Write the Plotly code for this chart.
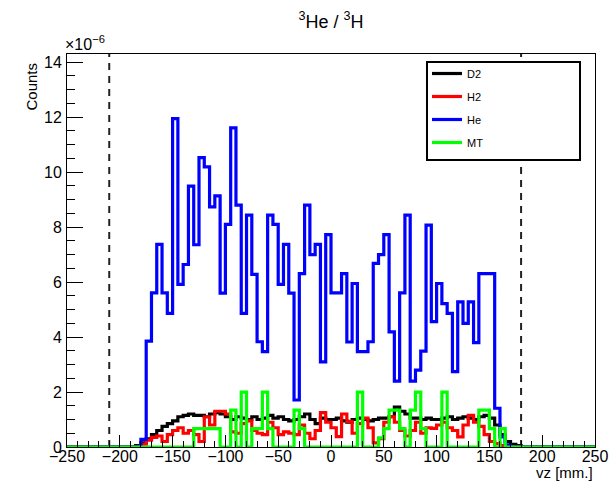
import numpy as np
import plotly.graph_objects as go

# ---- data (values in units of 1e-6 counts), 100 bins of 5 mm from -250 to 250 ----
X_MIN, X_MAX, N_BINS = -250, 250, 100
edges = np.linspace(X_MIN, X_MAX, N_BINS + 1)

d2_values = [0.0] * 13 + [
    0.05, 0.15, 0.3, 0.45, 0.6, 0.75, 0.85, 0.95, 1.1, 1.15,
    1.2, 1.15, 1.15, 1.1, 1.2, 1.25, 1.2, 1.1, 1.0, 1.1,
    1.05, 1.0, 1.1, 1.0, 1.05, 1.15, 1.05, 1.1, 1.0, 0.95,
    1.0, 1.1, 1.2, 1.0, 0.85, 1.05, 1.0, 1.0, 1.05, 0.95,
    0.9, 1.0, 1.05, 1.0, 0.95, 1.0, 1.05, 1.05, 1.1, 1.45,
    1.3, 1.2, 1.05, 1.05, 1.0, 1.05, 1.0, 1.0, 1.05, 1.1,
    1.0, 1.05, 1.1, 1.05, 1.0, 1.1, 1.15, 1.05, 0.8, 0.45,
    0.2, 0.1, 0.05] + [0.0] * 14

h2_values = [0.0] * 14 + [
    0.1, 0.25, 0.35, 0.4, 0.2, 0.45, 0.6, 0.7, 0.5, 0.6,
    0.45, 0.2, 1.1, 0.8, 1.3, 1.3, 1.2, 0.55, 0.5, 0.85,
    0.95, 0.6, 0.5, 0.45, 0.9, 0.7, 0.45, 0.55, 0.5, 0.45,
    0.8, 0.5, 0.3, 0.6, 1.25, 0.9, 0.7, 0.38, 1.2, 0.93,
    0.5, 0.85, 1.05, 0.7, 0.15, 0.3, 0.9, 1.1, 0.9, 0.6,
    0.4, 0.6, 0.9, 0.5, 0.7, 0.68, 0.8, 0.9, 0.7, 0.6,
    0.37, 0.8, 1.15, 0.9, 0.75, 0.45, 0.2, 0.12, 0.05] + [0.0] * 17

he_values = [0.0] * 14 + [
    0.28, 3.85, 5.61, 7.37, 5.61, 4.86, 11.95, 5.92, 6.64, 9.49,
    7.36, 10.53, 10.19, 8.74, 9.14, 5.6, 8.1, 11.61, 8.8, 4.86,
    8.44, 6.28, 3.83, 3.47, 8.44, 8.1, 5.92, 7.37, 5.6, 1.71,
    6.31, 8.8, 7.0, 7.37, 3.1, 7.73, 5.61, 5.61, 6.31, 3.82,
    5.95, 3.47, 3.47, 3.83, 6.68, 7.0, 7.73, 4.19, 2.4, 5.61,
    8.44, 2.4, 2.8, 3.49, 8.07, 4.56, 5.95, 5.22, 4.86, 2.74,
    5.28, 4.5, 5.28, 3.8, 6.31, 6.31, 6.31, 1.41, 0.37, 0.08] + [0.0] * 16

mt_values = [0.0] * 24 + [
    0.67, 0.67, 0.67, 0.67, 0.67, 0.0, 0.0, 1.34, 0.0, 2.0,
    0.0, 0.67, 0.67, 2.0, 0.67, 0.0, 0.0, 0.0, 0.0, 1.34,
    0.67, 0.0, 0.0, 0.0, 0.0, 0.0, 0.0, 0.0, 0.0, 0.0,
    0.0, 2.0, 0.0, 0.0, 0.0, 0.33, 0.67, 1.34, 1.34, 0.67,
    0.0, 1.34, 2.0, 0.67, 0.0, 0.0, 0.0, 2.0, 0.0, 0.0,
    0.0, 0.0, 0.0, 0.0, 1.34, 1.34, 0.67, 0.0, 0.67] + [0.0] * 17

series_names = ["D2", "H2", "He", "MT"]
series_values = [d2_values, h2_values, he_values, mt_values]
series_colors = ["#000000", "#ff0000", "#0000ff", "#00ff00"]

cut_lines = [-210, 180]
x_tick_values = list(range(-250, 251, 50))
y_tick_values = list(range(0, 15, 2))

FONT = "Liberation Sans, Arial, Helvetica, sans-serif"

# plot-area geometry in pixels (for the legend frame)
W, H = 610, 482
ML, MR, MT_, MB = 67, 15, 54, 35
PW, PH = W - ML - MR, H - MT_ - MB


def px_to_paper_x(px):
    return (px - ML) / PW


def px_to_paper_y(py):
    return (H - MB - py) / PH


fig = go.Figure()
for name, vals, col in zip(series_names, series_values, series_colors):
    assert len(vals) == N_BINS, (name, len(vals))
    fig.add_trace(go.Scatter(
        x=list(edges), y=list(vals) + [vals[-1]],
        mode="lines", line=dict(color=col, width=3.2, shape="hv"),
        name=name, legendgroup=name, hoverinfo="skip",
    ))

for xc in cut_lines:
    fig.add_shape(type="line", x0=xc, x1=xc, xref="x", y0=0, y1=1, yref="paper",
                  line=dict(color="#222222", width=2, dash="7px,6px"), layer="below")

# legend frame (ROOT-style wide box)
fig.add_shape(type="rect", xref="paper", yref="paper",
              x0=px_to_paper_x(427), x1=px_to_paper_x(580),
              y0=px_to_paper_y(160), y1=px_to_paper_y(62),
              line=dict(color="black", width=2), fillcolor="white", layer="above")

fig.update_layout(
    width=W, height=H,
    margin=dict(l=ML, r=MR, t=MT_, b=MB, autoexpand=False),
    paper_bgcolor="white", plot_bgcolor="white",
    font=dict(family=FONT, color="black", size=16),
    title=dict(text="<sup>3</sup>He / <sup>3</sup>H", x=0.5, xref="paper",
               y=0.955, yref="container", yanchor="middle",
               font=dict(family=FONT, size=18, color="black")),
    showlegend=True,
    legend=dict(x=px_to_paper_x(427), y=px_to_paper_y(59), xanchor="left", yanchor="top",
                bgcolor="rgba(0,0,0,0)", borderwidth=0,
                font=dict(family=FONT, size=11, color="black"),
                tracegroupgap=4),
    xaxis=dict(range=[X_MIN, X_MAX], tickvals=x_tick_values, ticks="inside", ticklen=12,
               tickcolor="black", showline=True, linecolor="black", linewidth=1,
               mirror=True, showgrid=False, zeroline=False, automargin=False,
               ticklabelstandoff=-5,
               tickfont=dict(family=FONT, size=16),
               minor=dict(ticks="inside", ticklen=6, dtick=10, tick0=-250,
                          tickcolor="black", showgrid=False)),
    yaxis=dict(range=[0, 14.3], tickvals=y_tick_values, ticks="inside", ticklen=16,
               tickcolor="black", showline=True, linecolor="black", linewidth=1,
               mirror=True, showgrid=False, zeroline=False, automargin=False,
               ticklabelstandoff=1,
               tickfont=dict(family=FONT, size=16),
               minor=dict(ticks="inside", ticklen=8, dtick=0.5, tick0=0,
                          tickcolor="black", showgrid=False)),
)

fig.add_annotation(text="vz [mm.]", xref="paper", yref="paper", x=1.0, y=0,
                   xanchor="right", yanchor="middle", yshift=-25, showarrow=False,
                   font=dict(family=FONT, size=15, color="black"))
fig.add_annotation(text="Counts", xref="paper", yref="paper", x=0, y=1,
                   xanchor="right", yanchor="top", xshift=-26, yshift=-7,
                   textangle=-90, showarrow=False,
                   font=dict(family=FONT, size=15, color="black"))
fig.add_annotation(text="\u00d710<sup>\u22126</sup>", xref="paper", yref="paper", x=0, y=1,
                   xanchor="left", yanchor="bottom", xshift=-4, yshift=-1, showarrow=False,
                   font=dict(family=FONT, size=16, color="black"))

fig.write_html("out.html")
